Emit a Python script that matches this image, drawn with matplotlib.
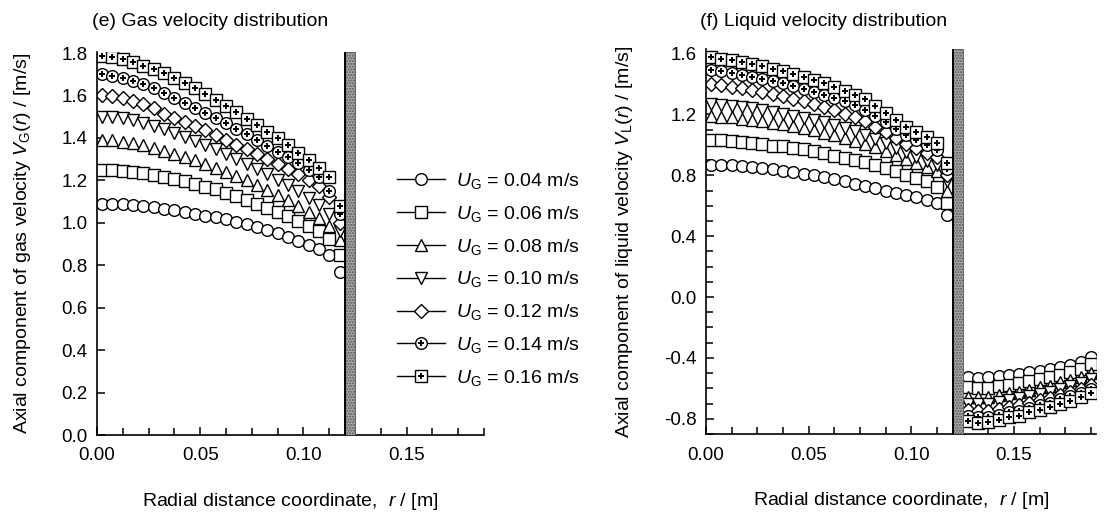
import numpy as np
import matplotlib
matplotlib.use("Agg")
import matplotlib.pyplot as plt
from matplotlib.lines import Line2D
from matplotlib.legend_handler import HandlerTuple
from matplotlib.ticker import MultipleLocator

plt.rcParams["font.family"] = ["Liberation Sans", "DejaVu Sans"]
plt.rcParams["mathtext.fontset"] = "custom"
plt.rcParams["mathtext.rm"] = "Liberation Sans"
plt.rcParams["mathtext.it"] = "Liberation Sans:italic"
plt.rcParams["font.size"] = 14

# superficial gas velocities (legend)
ug_labels = ["0.04", "0.06", "0.08", "0.10", "0.12", "0.14", "0.16"]

# radial positions [m]
r_inner = [0.0025, 0.0075, 0.0125, 0.0175, 0.0225, 0.0275, 0.0325, 0.0375,
           0.0425, 0.0475, 0.0525, 0.0575, 0.0625, 0.0675, 0.0725, 0.0775,
           0.0825, 0.0875, 0.0925, 0.0975, 0.1025, 0.1075, 0.1125, 0.1175]
r_outer = [0.1275, 0.1325, 0.1375, 0.1425, 0.1475, 0.1525, 0.1575, 0.1625,
           0.1675, 0.1725, 0.1775, 0.1825, 0.1875]

# (e) gas velocity V_G(r) [m/s], inner region
vg_004 = [1.09, 1.09, 1.088, 1.085, 1.08, 1.074, 1.067, 1.059, 1.05, 1.042, 1.034, 1.026,
          1.017, 1.006, 0.994, 0.981, 0.967, 0.951, 0.934, 0.916, 0.897, 0.877, 0.85, 0.77]
vg_006 = [1.25, 1.249, 1.246, 1.241, 1.234, 1.226, 1.217, 1.207, 1.196, 1.184, 1.171, 1.157,
          1.142, 1.126, 1.109, 1.091, 1.072, 1.052, 1.031, 1.009, 0.986, 0.96, 0.925, 0.85]
vg_008 = [1.39, 1.388, 1.383, 1.375, 1.365, 1.353, 1.34, 1.326, 1.311, 1.295, 1.278, 1.26,
          1.241, 1.221, 1.2, 1.178, 1.155, 1.131, 1.106, 1.08, 1.052, 1.022, 0.985, 0.92]
vg_010 = [1.50, 1.498, 1.492, 1.483, 1.471, 1.456, 1.44, 1.424, 1.406, 1.387, 1.367, 1.346,
          1.324, 1.301, 1.278, 1.254, 1.229, 1.203, 1.176, 1.148, 1.118, 1.085, 1.04, 0.96]
vg_012 = [1.60, 1.596, 1.588, 1.576, 1.561, 1.54, 1.515, 1.496, 1.477, 1.457, 1.436, 1.414,
          1.39, 1.368, 1.346, 1.323, 1.30, 1.277, 1.254, 1.23, 1.203, 1.172, 1.12, 1.0]
vg_014 = [1.70, 1.693, 1.683, 1.67, 1.655, 1.633, 1.61, 1.589, 1.566, 1.542, 1.517, 1.494,
          1.47, 1.444, 1.417, 1.39, 1.362, 1.335, 1.308, 1.28, 1.25, 1.215, 1.15, 1.04]
vg_016 = [1.788, 1.78, 1.77, 1.756, 1.74, 1.723, 1.706, 1.683, 1.659, 1.634, 1.607, 1.58,
          1.551, 1.52, 1.49, 1.46, 1.429, 1.398, 1.366, 1.331, 1.295, 1.258, 1.214, 1.08]

# (f) liquid velocity V_L(r) [m/s], inner region
vl_004 = [0.87, 0.87, 0.865, 0.86, 0.855, 0.85, 0.84, 0.83, 0.82, 0.81, 0.80, 0.79,
          0.775, 0.76, 0.745, 0.73, 0.715, 0.70, 0.685, 0.67, 0.655, 0.64, 0.62, 0.54]
vl_006 = [1.03, 1.03, 1.025, 1.02, 1.01, 1.005, 0.995, 0.99, 0.98, 0.97, 0.96, 0.945,
          0.93, 0.915, 0.90, 0.885, 0.865, 0.845, 0.825, 0.805, 0.785, 0.76, 0.72, 0.62]
vl_008 = [1.19, 1.186, 1.18, 1.173, 1.165, 1.156, 1.146, 1.135, 1.123, 1.11, 1.096, 1.081,
          1.065, 1.047, 1.028, 1.008, 0.985, 0.96, 0.934, 0.908, 0.882, 0.857, 0.83, 0.70]
vl_010 = [1.27, 1.265, 1.258, 1.25, 1.24, 1.229, 1.218, 1.205, 1.192, 1.178, 1.163, 1.147,
          1.13, 1.11, 1.09, 1.068, 1.04, 1.01, 0.98, 0.95, 0.922, 0.895, 0.865, 0.76]
vl_012 = [1.40, 1.393, 1.383, 1.373, 1.36, 1.347, 1.333, 1.318, 1.302, 1.285, 1.267, 1.248,
          1.228, 1.205, 1.182, 1.156, 1.12, 1.083, 1.045, 1.008, 0.977, 0.948, 0.918, 0.80]
vl_014 = [1.49, 1.483, 1.472, 1.462, 1.448, 1.434, 1.42, 1.404, 1.387, 1.369, 1.35, 1.33,
          1.31, 1.285, 1.26, 1.232, 1.19, 1.147, 1.105, 1.063, 1.03, 0.998, 0.965, 0.84]
vl_016 = [1.575, 1.567, 1.555, 1.545, 1.53, 1.515, 1.50, 1.483, 1.465, 1.446, 1.426, 1.405,
          1.383, 1.356, 1.33, 1.30, 1.255, 1.21, 1.165, 1.12, 1.085, 1.05, 1.01, 0.88]

# (f) liquid velocity, outer (downcomer) region
vlo_004 = [-0.527, -0.534, -0.527, -0.521, -0.512, -0.503, -0.494, -0.483, -0.473,
           -0.461, -0.446, -0.428, -0.395]
vlo_006 = [-0.59, -0.60, -0.595, -0.585, -0.575, -0.565, -0.553, -0.54, -0.527,
           -0.51, -0.49, -0.47, -0.44]
vlo_008 = [-0.655, -0.659, -0.655, -0.644, -0.631, -0.622, -0.608, -0.593, -0.582,
           -0.56, -0.543, -0.527, -0.499]
vlo_010 = [-0.70, -0.705, -0.70, -0.69, -0.677, -0.666, -0.652, -0.636, -0.623,
           -0.602, -0.584, -0.566, -0.54]
vlo_012 = [-0.745, -0.752, -0.748, -0.736, -0.722, -0.711, -0.694, -0.677, -0.663,
           -0.642, -0.622, -0.602, -0.575]
vlo_014 = [-0.78, -0.79, -0.786, -0.772, -0.758, -0.746, -0.727, -0.709, -0.694,
           -0.672, -0.651, -0.63, -0.604]
vlo_016 = [-0.813, -0.829, -0.824, -0.806, -0.791, -0.78, -0.758, -0.74, -0.725,
           -0.703, -0.681, -0.659, -0.631]

gas = [vg_004, vg_006, vg_008, vg_010, vg_012, vg_014, vg_016]
liq = [vl_004, vl_006, vl_008, vl_010, vl_012, vl_014, vl_016]
liq_out = [vlo_004, vlo_006, vlo_008, vlo_010, vlo_012, vlo_014, vlo_016]

# marker shape, size, whether a small "+" goes inside
styles = [("o", 8.4, False), ("s", 8.0, False), ("^", 9.0, False), ("v", 9.0, False),
          ("D", 7.6, False), ("o", 8.4, True), ("s", 8.0, True)]


def draw(ax, x, y, st):
    m, ms, plus = st
    ax.plot(x, y, ls="", marker=m, ms=ms, mfc="white", mec="black", mew=1.0)
    if plus:
        ax.plot(x, y, ls="", marker="+", ms=4.2, mec="black", mew=1.4)


def wall(ax):
    ax.axvspan(0.1202, 0.1252, facecolor="#a9a9a9", edgecolor="#555555", lw=0.6,
               hatch="......", zorder=3)
    ax.axvline(0.1202, color="black", lw=1.4, zorder=4)


def style_axes(ax):
    for s in ["top", "right"]:
        ax.spines[s].set_visible(False)
    ax.spines["left"].set_linewidth(1.2)
    ax.spines["bottom"].set_linewidth(1.2)
    ax.tick_params(direction="in", which="major", length=6, width=1.1, labelsize=13.5)
    ax.tick_params(direction="in", which="minor", length=5, width=1.1)
    ax.tick_params(axis="x", which="major", pad=9)
    ax.tick_params(axis="y", which="major", pad=7)
    ax.xaxis.set_major_locator(MultipleLocator(0.05))
    ax.xaxis.set_minor_locator(MultipleLocator(0.0125))
    ax.xaxis.set_major_formatter(plt.FormatStrFormatter("%.2f"))


fig = plt.figure(figsize=(11.04, 5.13), dpi=100)
ax1 = fig.add_axes([97 / 1104, 1 - 435 / 513, 387 / 1104, 383 / 513])
ax2 = fig.add_axes([706 / 1104, 1 - 434 / 513, 390 / 1104, 385 / 513])

# (e) gas
for y, st in zip(gas, styles):
    draw(ax1, r_inner, y, st)
wall(ax1)
ax1.set_xlim(0, 0.1875)
ax1.set_ylim(0, 1.805)
ax1.yaxis.set_major_locator(MultipleLocator(0.2))
ax1.yaxis.set_major_formatter(plt.FormatStrFormatter("%.1f"))
style_axes(ax1)
ax1.set_xlabel(r"Radial distance coordinate,  $r$ / [m]", fontsize=14)
ax1.xaxis.set_label_coords(0.5, -0.145)
ax1.set_ylabel(r"Axial component of gas velocity $V_{\rm G}$($r$) / [m/s]", fontsize=14)
ax1.yaxis.set_label_coords(-0.166, 0.5)

# (f) liquid
for y, yo, st in zip(liq, liq_out, styles):
    draw(ax2, r_inner, y, st)
    draw(ax2, r_outer, yo, st)
wall(ax2)
ax2.set_xlim(0, 0.19)
ax2.set_ylim(-0.9, 1.63)
ax2.yaxis.set_major_locator(MultipleLocator(0.4))
ax2.yaxis.set_minor_locator(MultipleLocator(0.1))
ax2.yaxis.set_major_formatter(plt.FormatStrFormatter("%.1f"))
style_axes(ax2)
ax2.set_xlabel(r"Radial distance coordinate,  $r$ / [m]", fontsize=14)
ax2.xaxis.set_label_coords(0.5, -0.145)
ax2.set_ylabel(r"Axial component of liquid velocity $V_{\rm L}$($r$) / [m/s]", fontsize=14)
ax2.yaxis.set_label_coords(-0.183, 0.5)

fig.text(92 / 1104, 1 - 26 / 513, "(e) Gas velocity distribution", fontsize=14)
fig.text(700 / 1104, 1 - 26 / 513, "(f) Liquid velocity distribution", fontsize=14)

# legend
handles = []
for m, ms, plus in styles:
    h = Line2D([], [], color="black", lw=1.0, marker=m, ms=ms, mfc="white", mec="black", mew=1.0)
    if plus:
        h2 = Line2D([], [], ls="", marker="+", ms=4.2, mec="black", mew=1.4)
        handles.append((h, h2))
    else:
        handles.append(h)
labels = [r"$U_{\rm G}$ = " + u + " m/s" for u in ug_labels]
fig.legend(handles, labels, loc="upper left", bbox_to_anchor=(397 / 1104, 1 - 171 / 513),
           frameon=False, borderpad=0, borderaxespad=0, handlelength=2.45, handletextpad=0.6,
           labelspacing=0.66, fontsize=14,
           handler_map={tuple: HandlerTuple(ndivide=1, pad=0)})

fig.savefig("out.png", dpi=100)
